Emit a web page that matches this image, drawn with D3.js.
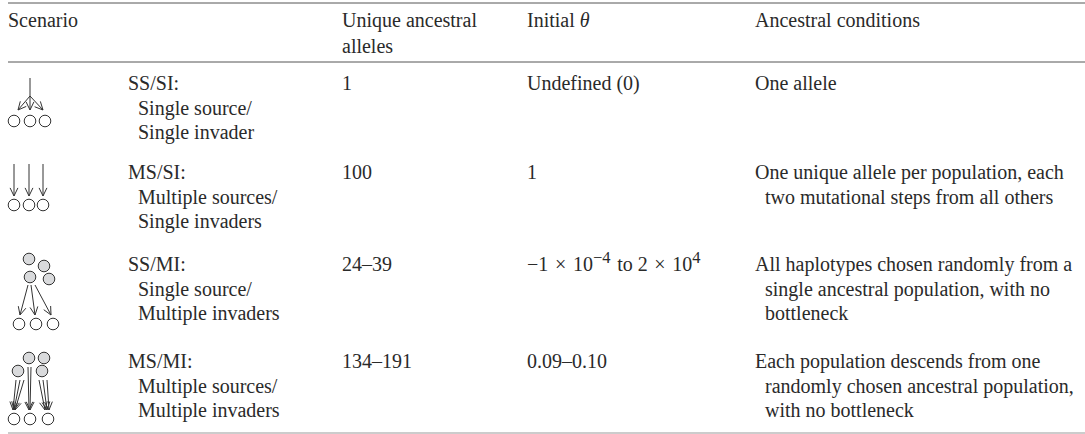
<!DOCTYPE html>
<html>
<head>
<meta charset="utf-8">
<script src="https://cdn.jsdelivr.net/npm/d3@7"></script>
<style>
  html, body { margin: 0; padding: 0; background: #fff; overflow: hidden; }
  text { font-family: "Liberation Serif", serif; font-size: 20px; fill: #2a2a2a; }
</style>
</head>
<body>
<div id="canvas"></div>
<script>
"use strict"

/* Table content */
let scenarios = ["SS/SI", "MS/SI", "SS/MI", "MS/MI"];
let scenarioLines = [
    ["SS/SI:", "Single source/", "Single invader"],
    ["MS/SI:", "Multiple sources/", "Single invaders"],
    ["SS/MI:", "Single source/", "Multiple invaders"],
    ["MS/MI:", "Multiple sources/", "Multiple invaders"]
];
let uniqueAlleles = ["1", "100", "24–39", "134–191"];
let initialTheta = ["Undefined (0)", "1", null, "0.09–0.10"];
let conditionLines = [
    ["One allele"],
    ["One unique allele per population, each", "two mutational steps from all others"],
    ["All haplotypes chosen randomly from a", "single ancestral population, with no", "bottleneck"],
    ["Each population descends from one", "randomly chosen ancestral population,", "with no bottleneck"]
];

/* Configuration variables: drawing */
let svgWidth = 1085;
let svgHeight = 434;
let lineHeight = 24.5;
let indent = 10;

let svg = d3.select("#canvas")
    .append("svg")
    .attr("width", svgWidth)
    .attr("height", svgHeight)
    .style("display", "block");

let colX = d3.scaleOrdinal()
    .domain(["scenario", "name", "unique", "theta", "conditions"])
    .range([8, 128, 342, 527, 755]);

let rowY = d3.scaleOrdinal()
    .domain(scenarios)
    .range([90, 179, 271, 368]);

/* Rules */
svg.selectAll("line.rule")
    .data([
        { y: 3, color: "#555" },
        { y: 62, color: "#555" },
        { y: 433, color: "#999" }
    ])
    .join("line")
    .attr("class", "rule")
    .attr("x1", colX("scenario"))
    .attr("x2", svgWidth)
    .attr("y1", d => d.y)
    .attr("y2", d => d.y)
    .attr("stroke", d => d.color)
    .attr("stroke-width", 1);

/* Header */
function addText(x, y, str) {
    return svg.append("text").attr("x", x).attr("y", y).text(str);
}
addText(colX("scenario"), 27, "Scenario");
addText(colX("unique"), 27, "Unique ancestral");
addText(colX("unique"), 27 + lineHeight + 1, "alleles");
let thetaHead = addText(colX("theta"), 27, "Initial ");
thetaHead.append("tspan").attr("font-style", "italic").text("θ");
addText(colX("conditions"), 27, "Ancestral conditions");

/* Body columns */
function addLines(lines, col) {
    lines.forEach(function (rowLines, i) {
        rowLines.forEach(function (str, j) {
            addText(colX(col) + (j > 0 ? indent : 0), rowY(scenarios[i]) + j * lineHeight, str);
        });
    });
}
addLines(scenarioLines, "name");
addLines(uniqueAlleles.map(d => [d]), "unique");
addLines(initialTheta.map(d => d === null ? [] : [d]), "theta");
addLines(conditionLines, "conditions");

/* Exponent notation for the SS/MI row */
let thetaRange = addText(colX("theta"), rowY("SS/MI"), "−1\u2004×\u200410");
thetaRange.append("tspan").attr("dy", -8).attr("font-size", "16.5px").text("−4");
thetaRange.append("tspan").attr("dy", 8).text("\u2004to 2\u2004×\u200410");
thetaRange.append("tspan").attr("dy", -8).attr("font-size", "16.5px").text("4");

/* Scenario glyphs */
let glyphs = svg.append("g");

function circle(x, y, filled) {
    glyphs.append("circle")
        .attr("cx", x)
        .attr("cy", y)
        .attr("r", 5.8)
        .attr("fill", filled ? "#d9dadc" : "#fff")
        .attr("stroke", "#333")
        .attr("stroke-width", 1);
}

function arrow(x1, y1, x2, y2) {
    let a = Math.atan2(y2 - y1, x2 - x1);
    let head = 9;
    let spread = 0.45;
    let path = d3.path();
    path.moveTo(x1, y1);
    path.lineTo(x2, y2);
    path.moveTo(x2 - head * Math.cos(a - spread), y2 - head * Math.sin(a - spread));
    path.lineTo(x2, y2);
    path.lineTo(x2 - head * Math.cos(a + spread), y2 - head * Math.sin(a + spread));
    glyphs.append("path")
        .attr("d", path.toString())
        .attr("fill", "none")
        .attr("stroke", "#333")
        .attr("stroke-width", 1);
}

// SS/SI
glyphs.append("line").attr("x1", 30).attr("x2", 30).attr("y1", 78).attr("y2", 96)
    .attr("stroke", "#333");
arrow(30, 96, 18, 110);
arrow(30, 96, 30, 110);
arrow(30, 96, 43, 110);
[14, 30, 45].forEach(x => circle(x, 121, false));

// MS/SI
[14, 29, 43].forEach(function (x) {
    arrow(x, 164, x, 196);
    circle(x, 205, false);
});

// SS/MI
[[29, 259], [44, 266], [30, 277], [49, 279]].forEach(p => circle(p[0], p[1], true));
arrow(28, 285, 20, 315);
arrow(31, 285, 35, 315);
arrow(35, 285, 51, 315);
[19, 36, 53].forEach(x => circle(x, 324, false));

// MS/MI
[[29, 358], [44, 358], [18, 371], [42, 371]].forEach(p => circle(p[0], p[1], true));
[[16, 13], [20, 14], [24, 15]].forEach(p => arrow(p[0], 380, p[1], 410));
[[28, 29], [31, 30]].forEach(p => arrow(p[0], 367, p[1], 410));
[[39, 45], [43, 47], [47, 49]].forEach(p => arrow(p[0], 380, p[1], 410));
[14, 30, 48].forEach(x => circle(x, 419, false));
</script>
</body>
</html>
